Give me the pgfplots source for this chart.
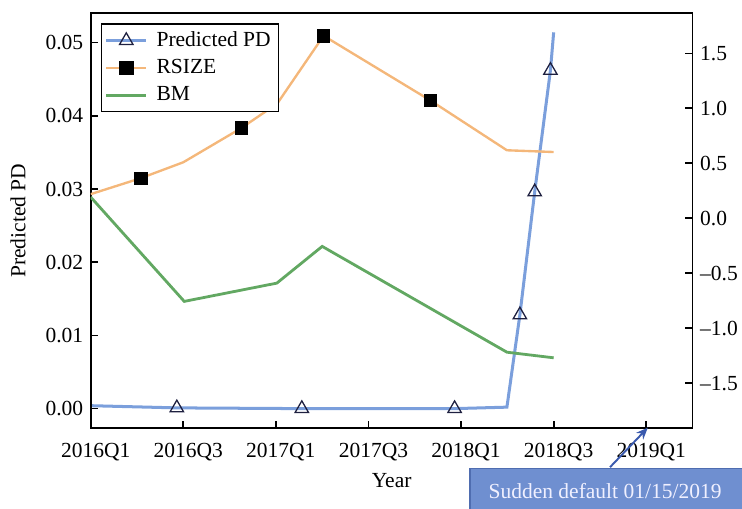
\documentclass[border=0pt]{standalone}
\usepackage{pgfplots}
\pgfplotsset{compat=1.18}
\usetikzlibrary{arrows.meta}
\usepackage{fontspec}
\setmainfont{Liberation Serif}

\definecolor{pdblue}{HTML}{7B9FDC}
\definecolor{rsorange}{HTML}{F4B77A}
\definecolor{bmgreen}{HTML}{62A862}
\definecolor{marknavy}{HTML}{1E2040}
\definecolor{boxblue}{HTML}{6F8FD0}
\definecolor{boxedge}{HTML}{4F6DB0}
\definecolor{arrowblue}{HTML}{3A5AAE}

% Quarterly index: 0 = 2016Q1, 13 = 2019Q2
\pgfplotstableread{
x      pd
0.00   0.0004
1.86   0.0001
4.56   0.0000
7.86   0.0000
8.99   0.0002
9.27   0.0128
9.59   0.0296
9.93   0.0462
10.00  0.0514
}\pdtable

\pgfplotstableread{
x      pd
1.86   0.0001
4.56   0.0000
7.86   0.0000
9.27   0.0128
9.59   0.0296
9.93   0.0462
}\pdmarks

\pgfplotstableread{
x      rsize
0.00   0.220
1.08   0.365
2.00   0.510
3.25   0.820
4.03   1.044
5.03   1.660
7.34   1.071
8.99   0.619
10.00  0.603
}\rsizetable

\pgfplotstableread{
x      rsize
1.08   0.365
3.25   0.820
5.03   1.660
7.34   1.071
}\rsizemarks

\pgfplotstableread{
x      bm
0.00   0.193
2.02  -0.755
4.02  -0.589
5.00  -0.255
8.99  -1.217
10.00 -1.268
}\bmtable

\pgfplotsset{
  twinbase/.style={
    scale only axis, width=279.9pt, height=193pt,
    xmin=0, xmax=13,
    axis line style={line width=0.8pt},
    every tick/.style={line width=0.8pt, black},
    major tick length=3.3pt,
    tick align=inside,
    font=\fontsize{10}{12}\selectfont,
    ticklabel style={font=\fontsize{10}{12}\selectfont},
    scaled y ticks=false,
  },
}

\begin{document}
\begin{tikzpicture}
% Left axis: predicted default probability
\begin{axis}[twinbase,
  ymin=-0.00269, ymax=0.0540,
  xtick={0,2,4,6,8,10,12},
  xticklabels={2016Q1,2016Q3,2017Q1,2017Q3,2018Q1,2018Q3,2019Q1},
  xticklabel style={xshift=2.3pt, yshift=-3.2pt},
  xtick pos=left,
  ytick={0,0.01,0.02,0.03,0.04,0.05},
  yticklabels={0.00,0.01,0.02,0.03,0.04,0.05},
  ytick pos=left,
  xlabel={Year},
  xlabel style={at={(axis description cs:0.5,0)}, anchor=center, yshift=-24.4pt},
  ylabel={Predicted PD},
  ylabel style={at={(axis description cs:-0.1208,0.5)}, anchor=center},
]
\addplot[pdblue, line width=1.4pt, forget plot] table[x=x, y=pd] {\pdtable};
\addplot[only marks, mark=triangle, mark size=3.6pt,
  mark options={draw=marknavy, line width=0.6pt}, forget plot]
  table[x=x, y=pd] {\pdmarks};
\coordinate (sw) at (rel axis cs:0,0);
\end{axis}

% Right axis: RSIZE and BM
\begin{axis}[twinbase,
  ymin=-1.909, ymax=1.864,
  xtick=\empty,
  ytick={-1.5,-1,-0.5,0,0.5,1,1.5},
  yticklabels={\textendash1.5,\textendash1.0,\textendash0.5,0.0,0.5,1.0,1.5},
  ytick pos=right,
  yticklabel pos=right,
  legend cell align=left,
  legend style={at={(axis description cs:0,1)}, anchor=north west,
    xshift=4.65pt, yshift=-4.65pt, draw=black, line width=0.6pt,
    fill=white, font=\fontsize{10}{12}\selectfont,
    row sep=0.5pt, column sep=2pt, inner sep=1.5pt},
  legend image code/.code={%
    \draw[mark repeat=2, mark phase=2] plot coordinates {(0cm,0cm) (0.33cm,0cm) (0.66cm,0cm)};},
]
\addlegendimage{pdblue, line width=1.4pt, mark=triangle, mark size=3.6pt,
  mark options={draw=marknavy, line width=0.6pt}}
\addlegendentry{Predicted PD}
\addlegendimage{rsorange, line width=1.1pt, mark=square*, mark size=2.9pt,
  mark options={draw=black, fill=black}}
\addlegendentry{RSIZE}
\addlegendimage{bmgreen, line width=1.3pt}
\addlegendentry{BM}

\addplot[rsorange, line width=1.1pt, forget plot] table[x=x, y=rsize] {\rsizetable};
\addplot[only marks, mark=square*, mark size=2.9pt,
  mark options={draw=black, fill=black}, forget plot]
  table[x=x, y=rsize] {\rsizemarks};
\addplot[bmgreen, line width=1.3pt, forget plot] table[x=x, y=bm] {\bmtable};
\end{axis}

% Default annotation
\fill[boxblue, draw=boxedge, line width=0.5pt]
  ([shift={(176.4pt,-18.5pt)}]sw) rectangle ([shift={(330pt,-60pt)}]sw);
\node[text=white!94!blue, font=\fontsize{10}{12}\selectfont, anchor=center]
  at ([shift={(239.2pt,-29.4pt)}]sw) {Sudden default 01/15/2019};
\draw[arrowblue, line width=0.9pt, -{Stealth[length=5.5pt, width=4.5pt]}]
  ([shift={(241.5pt,-18.1pt)}]sw) -- ([shift={(259.1pt,0.3pt)}]sw);

\pgfresetboundingbox
\path[use as bounding box]
  ([shift={(-42.2pt,-37.5pt)}]sw) rectangle ([shift={(302.9pt,199.2pt)}]sw);
\end{tikzpicture}
\end{document}
